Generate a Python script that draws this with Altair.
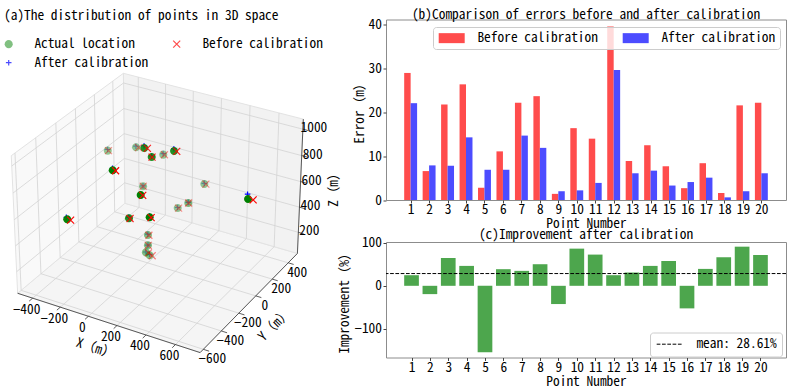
import numpy as np
import pandas as pd
import altair as alt

FONT = "Noto Sans Mono CJK SC, DejaVu Sans Mono, monospace"
FS = 13.4

# ---------------- data: panels (b) and (c) ----------------
point_ids = list(range(1, 21))
error_before = [29.0, 6.6, 21.8, 26.4, 2.8, 11.1, 22.2, 23.7, 1.4, 16.4,
                14.0, 39.6, 8.9, 12.5, 7.7, 2.7, 8.4, 1.6, 21.6, 22.2]
error_after = [22.1, 7.9, 7.8, 14.3, 6.9, 6.9, 14.7, 11.9, 2.0, 2.2,
               3.9, 29.7, 6.1, 6.7, 3.3, 4.1, 5.1, 0.6, 2.0, 6.1]
improvement = [24.8, -19.4, 65.0, 46.5, -155.0, 38.8, 34.9, 50.4, -42.6, 86.8,
               72.9, 24.8, 31.0, 46.5, 58.0, -52.7, 39.5, 66.7, 91.4, 72.0]
mean_improvement = 28.61

# ---------------- data: panel (a), 3D locations (m) ----------------
actual_x = [-157, -441, -291, 55, 107, -130, 214, 28, -191, 206, 142, 756, 81, 284, 34, 131, -38, -22, -22, 3]
actual_y = [-600, 233, 322, -115, -116, 382, -42, -403, 246, -386, 427, -111, -321, -413, 291, 257, 64, 39, 16, 19]
actual_z = [695, 644, 664, 1005, 954, 620, 988, 997, 430, 860, 444, 838, 608, 737, 300, 391, 200, 139, 97, 80]

before_x = [-129, -435, -270, 80, 110, -120, 235, 51, -190, 222, 155, 794, 90, 296, 41, 134, -30, -20, -1, 24]
before_y = [-606, 232, 318, -120, -117, 380, -46, -408, 246, -389, 424, -119, -323, -416, 290, 256, 62, 39, 12, 15]
before_z = [702, 646, 670, 1012, 955, 623, 994, 1003, 430, 864, 448, 848, 610, 740, 302, 392, 202, 139, 102, 86]

after_x = [-170, -443, -293, 51, 105, -132, 210, 24, -192, 205, 141, 747, 79, 282, 33, 130, -40, -22, -23, 1]
after_y = [-590, 235, 324, -111, -114, 384, -38, -399, 247, -385, 428, -102, -319, -411, 292, 258, 66, 39, 17, 21]
after_z = [700, 651, 671, 1018, 960, 626, 1001, 1008, 432, 862, 448, 865, 614, 743, 303, 395, 205, 140, 99, 86]

x_ticks = [-400, -200, 0, 200, 400, 600]
y_ticks = [-600, -400, -200, 0, 200, 400]
z_ticks = [200, 400, 600, 800, 1000]
x_lim = [-510, 765]
y_lim = [-635, 518]
z_lim = [30, 1075]

series_names = ["Actual location", "Before calibration", "After calibration"]

# ---------------- 3D projection (matplotlib-like view) ----------------
ELEV, AZIM, DIST = 30.0, -60.0, 10.0
box = np.array([4.0, 4.0, 3.0])
box = box * 1.8294640721620434 / np.linalg.norm(box)
el, az = np.radians(ELEV), np.radians(AZIM)
W_VEC = np.array([np.cos(el) * np.cos(az), np.cos(el) * np.sin(az), np.sin(el)])
U_VEC = np.cross([0.0, 0.0, 1.0], W_VEC)
U_VEC /= np.linalg.norm(U_VEC)
V_VEC = np.cross(W_VEC, U_VEC)


def project(x, y, z):
    x, y, z = np.broadcast_arrays(np.asarray(x, float), np.asarray(y, float), np.asarray(z, float))
    P = np.stack([(x - x_lim[0]) / (x_lim[1] - x_lim[0]) * box[0],
                  (y - y_lim[0]) / (y_lim[1] - y_lim[0]) * box[1],
                  (z - z_lim[0]) / (z_lim[1] - z_lim[0]) * box[2]], axis=-1)
    d = P - box / 2
    depth = d @ W_VEC
    den = DIST - depth
    return (d @ U_VEC) / den, (d @ V_VEC) / den, depth


def poly_frame(pid, pts):
    xs_, ys_, zs_ = zip(*pts)
    px, py, _ = project(list(xs_), list(ys_), list(zs_))
    return pd.DataFrame({"id": pid, "k": range(len(pts)), "px": px, "py": py})


def local_offset(ox, oy, ang):
    t = np.radians(ang)
    return float(np.cos(t) * ox + np.sin(t) * oy), float(-np.sin(t) * ox + np.cos(t) * oy)


x0, x1 = x_lim
y0, y1 = y_lim
z0, z1 = z_lim

# layout of the 3D panel (pixels)
W_L, H_L = 340, 389
SP, OX, OY = 1830.0, 159.0, 203.5
xs = alt.Scale(domain=[(0 - OX) / SP, (W_L - OX) / SP], nice=False, zero=False)
ys = alt.Scale(domain=[(OY - H_L) / SP, OY / SP], nice=False, zero=False)


def XE():
    return alt.X("px:Q", scale=xs, axis=None)


def YE():
    return alt.Y("py:Q", scale=ys, axis=None)


layers = []
# panes
panes = [
    ("floor", [(x0, y0, z0), (x1, y0, z0), (x1, y1, z0), (x0, y1, z0), (x0, y0, z0)], "#f5f5f5"),
    ("back", [(x0, y1, z0), (x1, y1, z0), (x1, y1, z1), (x0, y1, z1), (x0, y1, z0)], "#f2f2f2"),
    ("left", [(x0, y0, z0), (x0, y1, z0), (x0, y1, z1), (x0, y0, z1), (x0, y0, z0)], "#f9f9f9"),
]
for pid, pts, col in panes:
    layers.append(alt.Chart(poly_frame(pid, pts)).mark_line(fill=col, stroke="#e3e3e3", strokeWidth=1).encode(
        x=XE(), y=YE(), order="k:Q"))

# grid lines
grid = []
for v in x_ticks:
    grid.append(poly_frame(f"x{v}", [(v, y0, z0), (v, y1, z0), (v, y1, z1)]))
for v in y_ticks:
    grid.append(poly_frame(f"y{v}", [(x1, v, z0), (x0, v, z0), (x0, v, z1)]))
for v in z_ticks:
    grid.append(poly_frame(f"z{v}", [(x0, y0, v), (x0, y1, v), (x1, y1, v)]))
grid_df = pd.concat(grid, ignore_index=True)
layers.append(alt.Chart(grid_df).mark_line(stroke="#d3d3d3", strokeWidth=0.8).encode(
    x=XE(), y=YE(), detail="id:N", order="k:Q"))

# axis lines and tick marks
axl = [poly_frame("ax", [(x0, y0, z0), (x1, y0, z0)]),
       poly_frame("ay", [(x1, y0, z0), (x1, y1, z0)]),
       poly_frame("az", [(x1, y1, z0), (x1, y1, z1)])]
tl = 0.03
for v in x_ticks:
    axl.append(poly_frame(f"tx{v}", [(v, y0, z0), (v, y0 - tl * (y1 - y0), z0)]))
for v in y_ticks:
    axl.append(poly_frame(f"ty{v}", [(x1, v, z0), (x1 + tl * (x1 - x0), v, z0)]))
for v in z_ticks:
    axl.append(poly_frame(f"tz{v}", [(x1, y1, v), (x1 + tl * (x1 - x0), y1, v)]))
axl_df = pd.concat(axl, ignore_index=True)
layers.append(alt.Chart(axl_df).mark_line(stroke="#333333", strokeWidth=0.8).encode(
    x=XE(), y=YE(), detail="id:N", order="k:Q"))


def fmt(v):
    return str(v).replace("-", "\u2212")


def label_frame(vals, xyz):
    px, py, _ = project(*xyz)
    return pd.DataFrame({"t": [fmt(v) for v in vals], "px": px, "py": py})


tick_sets = [
    (label_frame(x_ticks, (x_ticks, y0, z0)), -6, 11.5),
    (label_frame(y_ticks, (x1, y_ticks, z0)), 9, 10),
    (label_frame(z_ticks, (x1, y1, z_ticks)), 11, -1),
]
for df, dx, dy in tick_sets:
    layers.append(alt.Chart(df).mark_text(font=FONT, fontSize=FS, dx=dx, dy=dy, align="center",
                                          baseline="middle", color="black").encode(
        x=XE(), y=YE(), text="t:N"))

# axis titles (screen offsets converted into the rotated text frame)
ax_titles = [
    ("X\uff08m\uff09", ((x0 + x1) / 2, y0, z0), -11, 26.5, 18),
    ("Y\uff08m\uff09", (x1, (y0 + y1) / 2, z0), 24, 24, 315),
    ("Z\uff08m\uff09", (x1, y1, (z0 + z1) / 2), 34, -1, 270),
]
for t, xyz, ox, oy, ang in ax_titles:
    px, py, _ = project(*xyz)
    dx, dy = local_offset(ox, oy, ang)
    df = pd.DataFrame({"t": [t], "px": px, "py": py})
    layers.append(alt.Chart(df).mark_text(font=FONT, fontSize=FS, dx=dx, dy=dy, angle=ang, align="center",
                                          baseline="middle", color="black").encode(
        x=XE(), y=YE(), text="t:N"))

# scatter points with depth shading (after underneath, actual, then before on top)
frames = []
for name, (sx, sy, sz) in zip(series_names, [(actual_x, actual_y, actual_z),
                                             (before_x, before_y, before_z),
                                             (after_x, after_y, after_z)]):
    px, py, depth = project(sx, sy, sz)
    op = 0.4 + 0.6 * (depth - depth.min()) / (depth.max() - depth.min())
    frames.append(pd.DataFrame({"series": name, "px": px, "py": py, "op": op}))
pts_df = pd.concat([frames[2], frames[0], frames[1]], ignore_index=True)

DOT_PATH = "M1.15,0A1.15,1.15,0,1,1,-1.15,0A1.15,1.15,0,1,1,1.15,0Z"
X_PATH = "M-1,-1L1,1M-1,1L1,-1"
PLUS_PATH = "M-0.8,0L0.8,0M0,-0.8L0,0.8"
leg_a = alt.Legend(title=None, orient="none", legendX=1, legendY=34, columns=2, direction="horizontal",
                   values=series_names, columnPadding=21,
                   rowPadding=4, labelOffset=19, symbolSize=49, symbolStrokeWidth=1.2,
                   labelFontSize=FS, labelFont=FONT, labelColor="black")
layers.append(alt.Chart(pts_df).mark_point(filled=False, size=49, strokeWidth=1.2).encode(
    x=XE(), y=YE(),
    fill=alt.Fill("series:N", scale=alt.Scale(domain=series_names, range=["green", "transparent", "transparent"]), legend=leg_a),
    stroke=alt.Stroke("series:N", scale=alt.Scale(domain=series_names, range=["transparent", "red", "blue"]), legend=leg_a),
    shape=alt.Shape("series:N", scale=alt.Scale(domain=series_names, range=[DOT_PATH, X_PATH, PLUS_PATH]), legend=leg_a),
    opacity=alt.Opacity("op:Q", scale=None),
))

# panel title
layers.append(alt.Chart(pd.DataFrame({"t": ["(a)The distribution of points in 3D space"]})).mark_text(
    font=FONT, fontSize=FS, align="left", baseline="middle", color="black").encode(
    x=alt.value(3), y=alt.value(13), text="t:N"))

left = alt.layer(*layers).properties(width=W_L, height=H_L,
                                     view=alt.ViewBackground(fill="white", stroke="transparent"))

# ---------------- panel (b) ----------------
PW, HB, HC = 400, 180.5, 115.5
bars_b = pd.DataFrame({
    "point": point_ids * 2,
    "series": ["Before calibration"] * 20 + ["After calibration"] * 20,
    "error": error_before + error_after,
    "shift": [-0.35] * 20 + [0.0] * 20,
})
bars_b["x0"] = bars_b["point"] + bars_b["shift"]
bars_b["x1"] = bars_b["x0"] + 0.35
bars_b["zero"] = 0.0


def x_axis():
    return alt.Axis(values=point_ids, format="d", title="Point Number", grid=False, domain=False,
                    tickSize=3, tickColor="#444444", labelPadding=-0.5, titlePadding=1,
                    labelOverlap=False, labelFlush=False)


def y_axis(vals, title):
    return alt.Axis(values=vals, format="d", title=title, grid=False, domain=False,
                    tickSize=3, tickColor="#444444", labelPadding=1.5, titlePadding=2,
                    labelOverlap=False, labelFlush=False)


PATCH = "M-1,-1L4.2,-1L4.2,1L-1,1Z"
leg_b = alt.Legend(title=None, orient="none", legendX=47, legendY=7.5, direction="horizontal",
                   padding=4, labelOffset=27, columnPadding=23, symbolType=PATCH,
                   symbolSize=100, symbolStrokeWidth=0, symbolOpacity=1, fillColor="rgba(255,255,255,0.8)",
                   strokeColor="#cccccc", cornerRadius=3, labelFontSize=FS, labelFont=FONT, labelColor="black")

panel_b = alt.Chart(bars_b).mark_bar().encode(
    x=alt.X("x0:Q", scale=alt.Scale(domain=[-0.335, 21.335], nice=False, zero=False), axis=x_axis()),
    x2="x1",
    y=alt.Y("error:Q", scale=alt.Scale(domain=[0, 41.2], nice=False), axis=y_axis([0, 10, 20, 30, 40], "Error\uff08m\uff09")),
    y2="zero",
    color=alt.Color("series:N", scale=alt.Scale(domain=["Before calibration", "After calibration"],
                                                range=["#ff4c4c", "#4c4cff"]), legend=leg_b),
).properties(width=PW, height=HB,
             title=alt.TitleParams("(b)Comparison of errors before and after calibration", fontSize=FS,
                                   fontWeight="normal", font=FONT, offset=-3.5, anchor="middle", color="black"),
             view=alt.ViewBackground(stroke="#8c8c8c", strokeWidth=1, fill="white"))

# ---------------- panel (c) ----------------
bars_c = pd.DataFrame({"point": point_ids, "imp": improvement})
bars_c["x0"] = bars_c["point"] - 0.4
bars_c["x1"] = bars_c["point"] + 0.4
bars_c["zero"] = 0.0
xs_c = alt.Scale(domain=[-0.39, 21.39], nice=False, zero=False)
ys_c = alt.Scale(domain=[-167.4, 102.3], nice=False, zero=False)

c_bars = alt.Chart(bars_c).mark_bar(color="#4da64d").encode(
    x=alt.X("x0:Q", scale=xs_c, axis=x_axis()),
    x2="x1",
    y=alt.Y("imp:Q", scale=ys_c, axis=y_axis([-100, 0, 100], "Improvement\uff08%\uff09")),
    y2="zero",
)
mean_df = pd.DataFrame({"mean": [mean_improvement], "label": [f"mean: {mean_improvement:.2f}%"]})
DASH = "M-1,0L4.2,0"
leg_c = alt.Legend(title=None, orient="none", legendX=264, legendY=90.5, padding=5, labelOffset=28,
                   symbolType=DASH, symbolSize=100, symbolDash=[3.7, 1.6], symbolStrokeWidth=1,
                   symbolStrokeColor="black", fillColor="rgba(255,255,255,0.8)", strokeColor="#cccccc",
                   cornerRadius=3, labelFontSize=FS, labelFont=FONT, labelColor="black")
c_mean = alt.Chart(mean_df).mark_rule(strokeDash=[3.7, 1.6], strokeWidth=1).encode(
    y=alt.Y("mean:Q", scale=ys_c),
    color=alt.Color("label:N", scale=alt.Scale(range=["black"]), legend=leg_c),
)
panel_c = alt.layer(c_bars, c_mean).properties(
    width=PW, height=HC,
    title=alt.TitleParams("(c)Improvement after calibration", fontSize=FS, fontWeight="normal", font=FONT,
                          offset=-5, anchor="middle", color="black"),
    view=alt.ViewBackground(stroke="#8c8c8c", strokeWidth=1, fill="white"))

spacer = alt.Chart(pd.DataFrame({"v": [0]})).mark_point(opacity=0).encode(
    x=alt.X("v:Q", axis=None), y=alt.Y("v:Q", axis=None)
).properties(width=PW, height=1, view=alt.ViewBackground(stroke="transparent"))

RES = dict(color="independent", fill="independent", stroke="independent", shape="independent")
inner = alt.vconcat(panel_b, panel_c, spacing=41.5, bounds="flush").resolve_scale(**RES)
right = alt.vconcat(spacer, inner, spacing=15.5, bounds="flush").resolve_scale(**RES)
chart = alt.hconcat(left, right, spacing=45, bounds="flush").resolve_scale(**RES).properties(padding=0)
chart = chart.configure(font=FONT).configure_axis(
    labelFont=FONT, titleFont=FONT, labelFontSize=FS, titleFontSize=FS, titleFontWeight="normal",
    labelColor="black", titleColor="black"
).configure_legend(labelFont=FONT, labelFontSize=FS)

chart.save("out.html", embed_options={"renderer": "svg", "actions": False})
